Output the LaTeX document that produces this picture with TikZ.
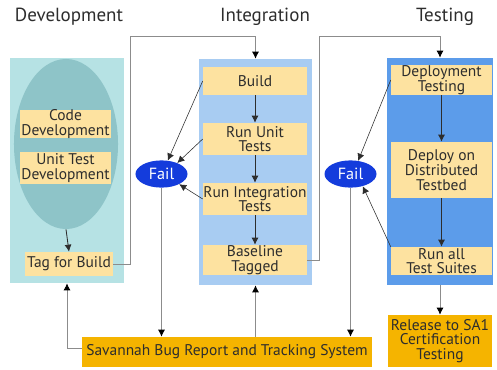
\documentclass[tikz,border=0pt]{standalone}
\usepackage{fontspec}
\setmainfont{PT Sans}
\usetikzlibrary{arrows.meta,shapes.geometric,positioning}

\definecolor{devbg}{RGB}{182,226,228}
\definecolor{devell}{RGB}{142,196,200}
\definecolor{stepfill}{RGB}{253,226,160}
\definecolor{intbg}{RGB}{168,204,242}
\definecolor{testbg}{RGB}{92,156,234}
\definecolor{failblue}{RGB}{20,60,220}
\definecolor{bugorange}{RGB}{245,180,0}
\definecolor{ink}{RGB}{45,45,45}
\definecolor{wire}{RGB}{140,140,140}

\begin{document}
\begin{tikzpicture}[
    x=0.025cm, y=-0.025cm,
    panel/.style={rectangle, inner sep=0pt},
    stage/.style={font=\fontsize{13.5}{15}\selectfont, text=ink},
    task/.style={rectangle, fill=stepfill, inner sep=0pt, align=center, text=ink, font=\fontsize{11}{10.5}\selectfont},
    fail/.style={ellipse, fill=failblue, text=white, inner sep=0pt, minimum width=1.3cm, minimum height=0.68cm, font=\fontsize{11.5}{12}\selectfont},
    bar/.style={rectangle, fill=bugorange, inner sep=0pt, align=center, text=ink, font=\fontsize{11}{10.5}\selectfont},
    flow/.style={-{Latex[length=5pt,width=5pt]}, ink, semithick},
    wireto/.style={-{Latex[length=5pt,width=5pt,color=black]}, wire, semithick}
]
\useasboundingbox (0,0) rectangle (497,369);

% stage headings
\node[stage] (tdev) at (69,17) {Development};
\node[stage] (tint) at (265,17) {Integration};
\node[stage] (ttest) at (445,17) {Testing};

% development column
\node[panel, fill=devbg, minimum width=2.85cm, minimum height=5.625cm] (devp) at (67,170.5) {};
\node[ellipse, fill=devell, minimum width=2.6cm, minimum height=4.25cm, inner sep=0pt] (devo) at (66,144) {};
\node[task, minimum width=2.275cm, minimum height=0.7cm] (code) at (65.5,124) {Code\\Development};
\node[task, minimum width=2.275cm, minimum height=0.8cm] (utdev) at (65.5,168) {Unit Test\\Development};
\node[task, minimum width=2.2cm, minimum height=0.6cm] (tag) at (69,264) {Tag for Build};

% integration column
\node[panel, fill=intbg, minimum width=2.825cm, minimum height=5.65cm] (intp) at (255.5,172) {};
\node[task, minimum width=2.6cm, minimum height=0.7cm] (build) at (255,81) {Build};
\node[task, minimum width=2.6cm, minimum height=0.8cm] (unit) at (255,139) {Run Unit\\Tests};
\node[task, minimum width=2.6cm, minimum height=0.8cm] (inttest) at (255,199) {Run Integration\\Tests};
\node[task, minimum width=2.6cm, minimum height=0.75cm] (base) at (255,260) {Baseline\\Tagged};
\node[fail] (fail1) at (161.5,174) {Fail};

% testing column
\node[panel, fill=testbg, minimum width=2.65cm, minimum height=5.675cm] (testp) at (440,171.5) {};
\node[task, minimum width=2.525cm, minimum height=0.75cm] (deptest) at (441.5,80) {Deployment\\Testing};
\node[task, minimum width=2.525cm, minimum height=1.4cm] (dist) at (441.5,170) {Deploy on\\Distributed\\Testbed};
\node[task, minimum width=2.525cm, minimum height=0.7cm] (runall) at (441.5,261) {Run all\\Test Suites};
\node[fail] (fail2) at (350.5,174) {Fail};

% bottom row
\node[bar, minimum width=7.25cm, minimum height=0.75cm] (bugs) at (227,352) {Savannah Bug Report and Tracking System};
\node[bar, minimum width=2.6cm, minimum height=1.3cm] (sa1) at (440,341) {Release to SA1\\Certification\\Testing};

\coordinate (upA) at (130,36);
\coordinate (upB) at (319,36);

% steps inside the columns
\draw[flow] (devo.south) -- (tag.north);
\draw[flow] (build) -- (unit);
\draw[flow] (unit) -- (inttest);
\draw[flow] (inttest) -- (base);
\draw[flow] (deptest) -- (dist);
\draw[flow] (dist) -- (runall);

% hand-over between columns
\draw[wireto] (tag.east) -| (upA) -| (intp.north);
\draw[wireto] (base.east) -| (upB) -| (testp.north);
\draw[wireto] (testp.south) -- (sa1.north);

% failures
\draw[flow, thin] (build.west) -- (fail1.65);
\draw[flow, thin] (unit.west) -- (fail1.35);
\draw[flow, thin] (inttest.west) -- (fail1.-30);
\draw[flow, thin] (deptest.west) -- (fail2.60);
\draw[flow, thin] (runall.north west) -- (fail2.-45);

% bug tracker
\draw[wireto] (fail1.south) -- (fail1.south |- bugs.north);
\draw[wireto] (fail2.south) -- (fail2.south |- bugs.north);
\draw[wireto] ([yshift=0.1cm]bugs.west) -| (devp.south);
\draw[wireto] (intp.south |- bugs.north) -- (intp.south);
\end{tikzpicture}
\end{document}
